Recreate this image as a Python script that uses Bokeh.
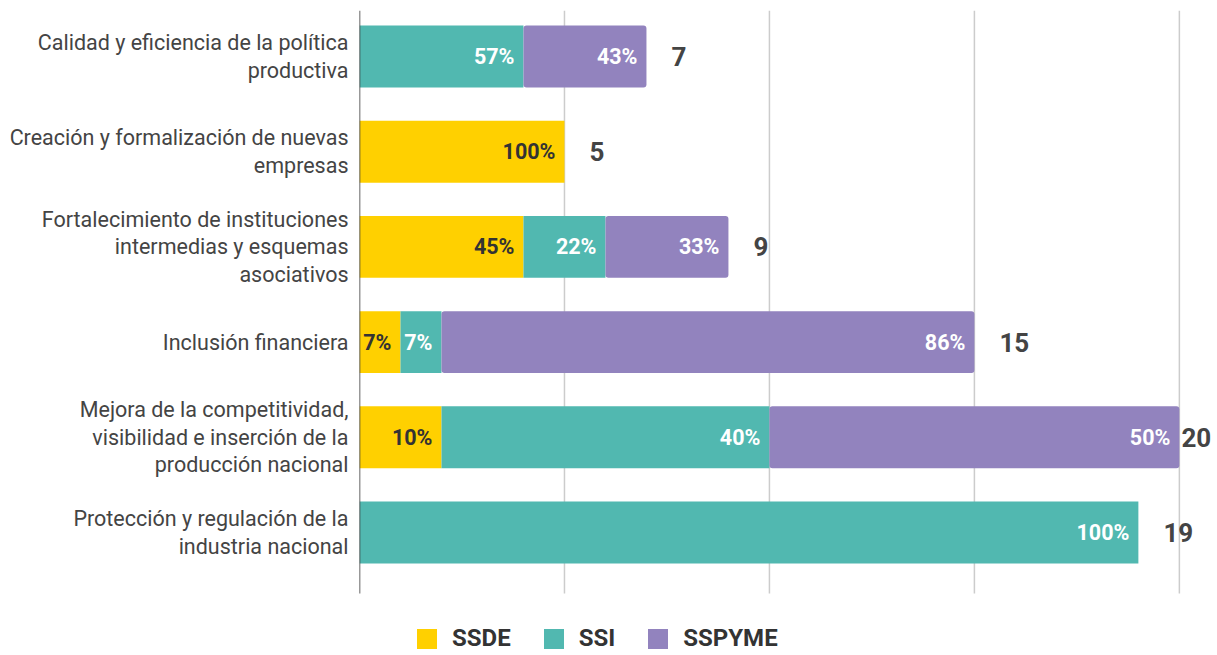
from bokeh.plotting import figure
from bokeh.models import (ColumnDataSource, Range1d, FixedTicker, Legend, LegendItem)
from bokeh.core.properties import value
from bokeh.embed import file_html
from bokeh.resources import INLINE

categories = [
    "Calidad y eficiencia de la política\nproductiva",
    "Creación y formalización de nuevas\nempresas",
    "Fortalecimiento de instituciones\nintermedias y esquemas\nasociativos",
    "Inclusión financiera",
    "Mejora de la competitividad,\nvisibilidad e inserción de la\nproducción nacional",
    "Protección y regulación de la\nindustria nacional",
]
series = ["SSDE", "SSI", "SSPYME"]
ssde = [0, 5, 4, 1, 2, 0]
ssi = [4, 0, 2, 1, 8, 19]
sspyme = [3, 0, 3, 13, 10, 0]
ssde_pct = ["", "100%", "45%", "7%", "10%", ""]
ssi_pct = ["57%", "", "22%", "7%", "40%", "100%"]
sspyme_pct = ["43%", "", "33%", "86%", "50%", ""]
colors = ["#FFD000", "#51B8B0", "#9283BE"]
grid_ticks = [5, 10, 15, 20]

FONT = "Roboto"
y = list(range(len(categories)))
totals = [a + b + c for a, b, c in zip(ssde, ssi, sspyme)]
ssde_end = ssde[:]
ssi_end = [a + b for a, b in zip(ssde, ssi)]
sspyme_end = totals[:]
max_total = max(totals)
total_offsets = [2 if t == max_total else 25 for t in totals]

# vertical extent of the plotting area (in category units)
Y_TOP = -0.483
Y_BOTTOM = 5.64      # where grid lines / axis line stop
Y_END = 6.292        # frame bottom (room for legend)

source = ColumnDataSource(dict(
    y=y, SSDE=ssde, SSI=ssi, SSPYME=sspyme,
    ssde_end=ssde_end, ssi_end=ssi_end, sspyme_end=sspyme_end,
    ssde_pct=ssde_pct, ssi_pct=ssi_pct, sspyme_pct=sspyme_pct,
    total=totals, total_str=[str(t) for t in totals], total_off=total_offsets,
))

p = figure(width=1217, height=655, output_backend="svg", toolbar_location=None,
           x_range=Range1d(0, 20.93), y_range=Range1d(Y_END, Y_TOP),
           min_border_left=359, min_border_right=0, min_border_top=10,
           min_border_bottom=0)
p.outline_line_color = None
p.background_fill_color = "white"
p.border_fill_color = "white"

p.xaxis.visible = False
p.xgrid.grid_line_color = None
p.ygrid.grid_line_color = None

# vertical grid lines at the x ticks, stopping at the bottom of the plot area
p.segment(x0=grid_ticks, y0=[Y_TOP] * len(grid_ticks), x1=grid_ticks,
          y1=[Y_BOTTOM] * len(grid_ticks), line_color="#cccccc", line_width=1.5)

yax = p.yaxis[0]
yax.ticker = FixedTicker(ticks=y)
yax.major_label_overrides = {i: c for i, c in zip(y, categories)}
yax.major_tick_line_color = None
yax.minor_tick_line_color = None
yax.axis_line_color = None
yax.major_label_standoff = 5
yax.major_label_text_font = FONT
yax.major_label_text_font_size = "21.5px"
yax.major_label_text_color = "#444444"
yax.major_label_text_line_height = 1.1
yax.major_label_text_align = "right"

rs = p.hbar_stack(series, y="y", height=0.65, color=colors, line_color=None, source=source)
rs[2].glyph.border_radius = 3

# axis line at x = 0
p.segment(x0=[0], y0=[Y_TOP], x1=[0], y1=[Y_BOTTOM], line_color="#333333", line_width=1.5)

def seg_labels(xcol, tcol, color):
    p.text(x=xcol, y="y", text=tcol, source=source, x_offset=-9,
           text_align="right", text_baseline="middle",
           text_font=value(FONT), text_font_style="bold",
           text_font_size="21.5px", text_color=color)

seg_labels("ssde_end", "ssde_pct", "#333333")
seg_labels("ssi_end", "ssi_pct", "white")
seg_labels("sspyme_end", "sspyme_pct", "white")

p.text(x="total", y="y", text="total_str", source=source, x_offset="total_off",
       text_align="left", text_baseline="middle",
       text_font=value(FONT), text_font_style="bold",
       text_font_size="26px", text_color="#444444")

legend = Legend(items=[LegendItem(label=s, renderers=[r]) for s, r in zip(series, rs)],
                orientation="horizontal", location=(55, 3),
                glyph_width=25, glyph_height=25, label_standoff=13, spacing=30,
                padding=0, margin=0, border_line_color=None,
                background_fill_alpha=0,
                label_text_font=FONT, label_text_font_size="24px",
                label_text_font_style="bold", label_text_color="#333333")
p.add_layout(legend, "center")

open("out.html", "w").write(file_html(p, INLINE))
